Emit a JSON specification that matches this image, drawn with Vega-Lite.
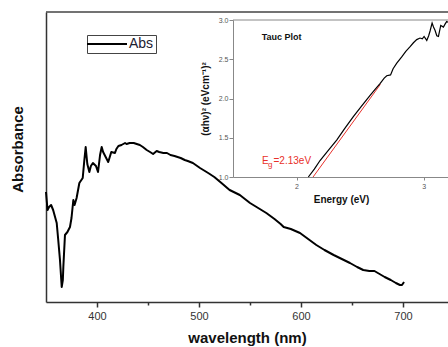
{
  "$schema": "https://vega.github.io/schema/vega-lite/v6.json",
  "width": 402,
  "height": 290,
  "autosize": {"type": "none"},
  "padding": {"left": 46, "top": 12, "right": 0, "bottom": 45},
  "background": "white",
  "config": {"view": {"stroke": null}, "font": "Liberation Sans", "axis": {"grid": false}},
  "datasets": {
    "abs": [
      {"wavelength": 350, "absorbance": 1.10}, {"wavelength": 351.5, "absorbance": 0.92}, {"wavelength": 353, "absorbance": 0.95},
      {"wavelength": 355, "absorbance": 0.97}, {"wavelength": 357, "absorbance": 0.92}, {"wavelength": 360.5, "absorbance": 0.79},
      {"wavelength": 362, "absorbance": 0.62}, {"wavelength": 363.7, "absorbance": 0.42}, {"wavelength": 365.4, "absorbance": 0.15},
      {"wavelength": 366.5, "absorbance": 0.22}, {"wavelength": 367, "absorbance": 0.35}, {"wavelength": 368.6, "absorbance": 0.67},
      {"wavelength": 371, "absorbance": 0.70}, {"wavelength": 373.5, "absorbance": 0.75}, {"wavelength": 375, "absorbance": 0.84},
      {"wavelength": 376.8, "absorbance": 1.02}, {"wavelength": 378, "absorbance": 0.97}, {"wavelength": 380, "absorbance": 1.04},
      {"wavelength": 382.7, "absorbance": 1.19}, {"wavelength": 386, "absorbance": 1.24},
      {"wavelength": 387.6, "absorbance": 1.42}, {"wavelength": 388.9, "absorbance": 1.55}, {"wavelength": 390.5, "absorbance": 1.38},
      {"wavelength": 392.5, "absorbance": 1.30}, {"wavelength": 394, "absorbance": 1.36}, {"wavelength": 396, "absorbance": 1.39},
      {"wavelength": 399, "absorbance": 1.36}, {"wavelength": 401, "absorbance": 1.30}, {"wavelength": 403, "absorbance": 1.47},
      {"wavelength": 404.6, "absorbance": 1.55}, {"wavelength": 406, "absorbance": 1.50}, {"wavelength": 408.5, "absorbance": 1.45},
      {"wavelength": 411, "absorbance": 1.40}, {"wavelength": 414, "absorbance": 1.50}, {"wavelength": 417.6, "absorbance": 1.49},
      {"wavelength": 419, "absorbance": 1.53}, {"wavelength": 421, "absorbance": 1.56}, {"wavelength": 424, "absorbance": 1.57},
      {"wavelength": 427.5, "absorbance": 1.59}, {"wavelength": 429, "absorbance": 1.58}, {"wavelength": 432, "absorbance": 1.59},
      {"wavelength": 436, "absorbance": 1.59}, {"wavelength": 439, "absorbance": 1.58}, {"wavelength": 442, "absorbance": 1.57},
      {"wavelength": 445, "absorbance": 1.55}, {"wavelength": 448.7, "absorbance": 1.52}, {"wavelength": 452, "absorbance": 1.50},
      {"wavelength": 455, "absorbance": 1.48}, {"wavelength": 458.5, "absorbance": 1.51}, {"wavelength": 461, "absorbance": 1.50},
      {"wavelength": 465, "absorbance": 1.49}, {"wavelength": 468.6, "absorbance": 1.49}, {"wavelength": 472, "absorbance": 1.47},
      {"wavelength": 476, "absorbance": 1.46}, {"wavelength": 482, "absorbance": 1.44}, {"wavelength": 486, "absorbance": 1.42},
      {"wavelength": 489, "absorbance": 1.41}, {"wavelength": 494, "absorbance": 1.39}, {"wavelength": 501, "absorbance": 1.34},
      {"wavelength": 509, "absorbance": 1.29}, {"wavelength": 515, "absorbance": 1.25}, {"wavelength": 522, "absorbance": 1.19},
      {"wavelength": 530, "absorbance": 1.12}, {"wavelength": 540, "absorbance": 1.07}, {"wavelength": 550, "absorbance": 0.99},
      {"wavelength": 558, "absorbance": 0.94}, {"wavelength": 566, "absorbance": 0.89}, {"wavelength": 574, "absorbance": 0.83},
      {"wavelength": 580, "absorbance": 0.78}, {"wavelength": 583, "absorbance": 0.75}, {"wavelength": 590, "absorbance": 0.73},
      {"wavelength": 599, "absorbance": 0.69}, {"wavelength": 607, "absorbance": 0.63}, {"wavelength": 615, "absorbance": 0.57},
      {"wavelength": 623, "absorbance": 0.52}, {"wavelength": 632, "absorbance": 0.47}, {"wavelength": 640, "absorbance": 0.43},
      {"wavelength": 648, "absorbance": 0.39}, {"wavelength": 655, "absorbance": 0.35}, {"wavelength": 661, "absorbance": 0.32},
      {"wavelength": 667, "absorbance": 0.31}, {"wavelength": 672, "absorbance": 0.31}, {"wavelength": 677, "absorbance": 0.28},
      {"wavelength": 682, "absorbance": 0.25}, {"wavelength": 688, "absorbance": 0.22}, {"wavelength": 693, "absorbance": 0.19},
      {"wavelength": 697, "absorbance": 0.17}, {"wavelength": 699, "absorbance": 0.17}, {"wavelength": 701, "absorbance": 0.20}
    ],
    "tauc": [
      {"energy": 2.093, "tauc": 1.00}, {"energy": 2.14, "tauc": 1.10}, {"energy": 2.185, "tauc": 1.21}, {"energy": 2.25, "tauc": 1.34},
      {"energy": 2.316, "tauc": 1.47}, {"energy": 2.38, "tauc": 1.62}, {"energy": 2.447, "tauc": 1.77}, {"energy": 2.51, "tauc": 1.90},
      {"energy": 2.579, "tauc": 2.04}, {"energy": 2.62, "tauc": 2.12}, {"energy": 2.657, "tauc": 2.19}, {"energy": 2.69, "tauc": 2.26},
      {"energy": 2.71, "tauc": 2.29}, {"energy": 2.74, "tauc": 2.30}, {"energy": 2.76, "tauc": 2.38}, {"energy": 2.789, "tauc": 2.45},
      {"energy": 2.828, "tauc": 2.53}, {"energy": 2.86, "tauc": 2.60}, {"energy": 2.894, "tauc": 2.66}, {"energy": 2.92, "tauc": 2.71},
      {"energy": 2.946, "tauc": 2.75}, {"energy": 2.972, "tauc": 2.77}, {"energy": 2.99, "tauc": 2.76}, {"energy": 3.004, "tauc": 2.79},
      {"energy": 3.025, "tauc": 2.74}, {"energy": 3.04, "tauc": 2.80}, {"energy": 3.051, "tauc": 2.86}, {"energy": 3.067, "tauc": 2.96},
      {"energy": 3.078, "tauc": 2.91}, {"energy": 3.09, "tauc": 2.87}, {"energy": 3.104, "tauc": 2.80}, {"energy": 3.117, "tauc": 2.79},
      {"energy": 3.135, "tauc": 2.93}, {"energy": 3.156, "tauc": 2.91}, {"energy": 3.17, "tauc": 2.95}, {"energy": 3.182, "tauc": 2.98},
      {"energy": 3.2, "tauc": 2.97}
    ],
    "fit": [{"energy": 2.13, "tauc": 1.0}, {"energy": 2.66, "tauc": 2.18}],
    "title": [{"energy": 1.726, "tauc": 2.75, "label": "Tauc Plot"}],
    "eg": [{"energy": 1.728, "tauc": 1.17, "label": "E"}, {"energy": 1.819, "tauc": 1.17, "label": "=2.13eV"}],
    "egsub": [{"energy": 1.776, "tauc": 1.13, "label": "g"}]
  },
  "layer": [
    {
      "layer": [
        {
          "data": {"name": "abs"},
          "mark": {"type": "line", "strokeWidth": 2, "strokeJoin": "round"},
          "encoding": {
            "x": {
              "field": "wavelength", "type": "quantitative",
              "scale": {"domain": [350, 744.1], "nice": false, "zero": false},
              "axis": {
                "orient": "bottom",
                "values": [400, 450, 500, 550, 600, 650, 700],
                "labelExpr": "datum.value % 100 === 0 ? datum.label : ''",
                "tickSize": {"condition": {"test": "datum.value % 100 === 0", "value": 5}, "value": 3},
                "labelFontSize": 11, "labelColor": "#333", "labelPadding": 3,
                "domainColor": "#333", "domainWidth": 1.5, "tickColor": "#333", "tickWidth": 1.5,
                "title": "wavelength (nm)", "titleFontSize": 15, "titleFontWeight": "bold", "titleColor": "#111", "titlePadding": 9
              }
            },
            "y": {
              "field": "absorbance", "type": "quantitative",
              "scale": {"domain": [0, 2.9], "nice": false, "zero": false},
              "axis": {
                "orient": "left", "labels": false, "ticks": false,
                "domainColor": "#333", "domainWidth": 1.5,
                "title": "Absorbance", "titleFontSize": 15, "titleFontWeight": "bold", "titleColor": "#111", "titlePadding": 21, "titleY": 137
              }
            },
            "color": {
              "datum": "Abs",
              "scale": {"range": ["black"]},
              "legend": {
                "orient": "none", "legendX": 41, "legendY": 23, "title": null,
                "symbolType": "M-4,0H4", "symbolSize": 100, "symbolStrokeWidth": 2, "symbolOffset": 11,
                "labelFontSize": 14, "labelFont": "Liberation Sans", "labelColor": "#1c2030", "labelOffset": 15,
                "strokeColor": "#444", "fillColor": "white", "padding": 2
              }
            }
          }
        },
        {
          "data": {"values": [{}]},
          "mark": {"type": "rule", "color": "#444", "strokeWidth": 1.5},
          "encoding": {"y": {"datum": 2.9, "type": "quantitative"}}
        }
      ]
    },
    {
      "layer": [
        {
          "data": {"values": [{}]},
          "mark": {"type": "rule", "color": "#888", "strokeWidth": 1},
          "encoding": {
            "x": {"datum": 1.5, "type": "quantitative"},
            "x2": {"datum": 3.2},
            "y": {"datum": 3, "type": "quantitative"}
          }
        },
        {
          "data": {"name": "fit"},
          "mark": {"type": "line", "color": "#e8302a", "strokeWidth": 1},
          "encoding": {
            "x": {"field": "energy", "type": "quantitative"},
            "y": {"field": "tauc", "type": "quantitative"}
          }
        },
        {
          "data": {"name": "tauc"},
          "mark": {"type": "line", "color": "black", "strokeWidth": 1.2},
          "encoding": {
            "x": {
              "field": "energy", "type": "quantitative",
              "scale": {"domain": [1.5, 3.2], "range": [187, 403], "nice": false, "zero": false},
              "axis": {
                "orient": "bottom", "offset": -125,
                "values": [2, 2.5, 3],
                "format": "d",
                "labelExpr": "datum.value % 1 === 0 ? datum.label : ''",
                "tickSize": {"condition": {"test": "datum.value % 1 === 0", "value": 3}, "value": 2},
                "labelFontSize": 7, "labelColor": "#555", "labelPadding": 2,
                "domainColor": "#888", "domainWidth": 1, "tickColor": "#888",
                "title": "Energy (eV)", "titleFontSize": 10, "titleFontWeight": "bold", "titleColor": "#111", "titlePadding": 5
              }
            },
            "y": {
              "field": "tauc", "type": "quantitative",
              "scale": {"domain": [1, 3], "range": [165, 8], "nice": false, "zero": false},
              "axis": {
                "orient": "left", "offset": -187,
                "values": [1, 1.25, 1.5, 1.75, 2, 2.25, 2.5, 2.75, 3],
                "format": ".1f",
                "labelExpr": "(datum.value * 2) % 1 === 0 ? datum.label : ''",
                "tickSize": {"condition": {"test": "(datum.value * 2) % 1 === 0", "value": 4}, "value": 2},
                "labelFontSize": 7, "labelColor": "#555", "labelPadding": 1,
                "domainColor": "#888", "domainWidth": 1, "tickColor": "#888",
                "title": "(αhν)² (eVcm⁻¹)²", "titleFontSize": 10, "titleFontWeight": "bold", "titleColor": "#111", "titlePadding": 8
              }
            }
          }
        },
        {
          "data": {"name": "title"},
          "mark": {"type": "text", "align": "left", "baseline": "alphabetic", "fontSize": 9, "fontWeight": "bold", "color": "#111"},
          "encoding": {
            "x": {"field": "energy", "type": "quantitative"},
            "y": {"field": "tauc", "type": "quantitative"},
            "text": {"field": "label"}
          }
        },
        {
          "data": {"name": "eg"},
          "mark": {"type": "text", "align": "left", "baseline": "alphabetic", "fontSize": 10, "color": "#e8302a"},
          "encoding": {
            "x": {"field": "energy", "type": "quantitative"},
            "y": {"field": "tauc", "type": "quantitative"},
            "text": {"field": "label"}
          }
        },
        {
          "data": {"name": "egsub"},
          "mark": {"type": "text", "align": "left", "baseline": "alphabetic", "fontSize": 8, "color": "#e8302a"},
          "encoding": {
            "x": {"field": "energy", "type": "quantitative"},
            "y": {"field": "tauc", "type": "quantitative"},
            "text": {"field": "label"}
          }
        }
      ]
    }
  ],
  "resolve": {"scale": {"x": "independent", "y": "independent"}, "axis": {"x": "independent", "y": "independent"}}
}
